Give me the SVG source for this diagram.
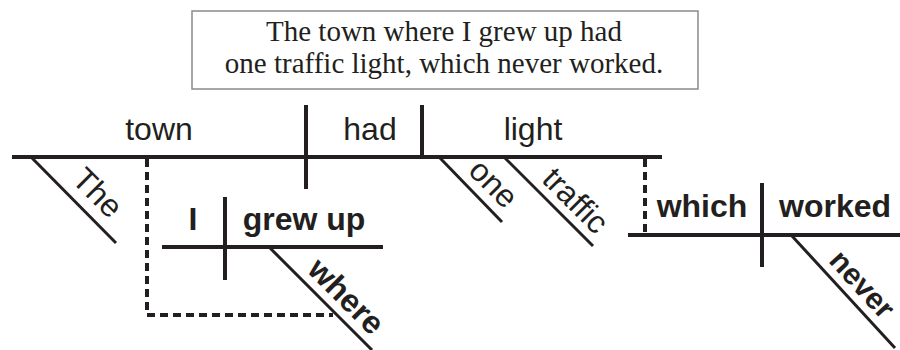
<svg xmlns="http://www.w3.org/2000/svg" width="900" height="350" viewBox="0 0 900 350">
<style>
.ln{stroke:#231f20;stroke-width:4;fill:none;stroke-linecap:butt}
.sl{stroke:#231f20;stroke-width:3;fill:none}
.ds{stroke:#231f20;stroke-width:4;fill:none;stroke-dasharray:8 5}
.r{font-family:"Liberation Sans",Arial,sans-serif;font-size:32px;fill:#231f20}
.b{font-family:"Liberation Sans",Arial,sans-serif;font-size:32px;font-weight:bold;fill:#231f20}
.s{font-family:"Liberation Serif","Times New Roman",serif;font-size:29px;fill:#231f20}
</style>
<rect width="900" height="350" fill="#fff"/>
<g id="sentence">
<rect x="192" y="11" width="506" height="78" fill="#fff" stroke="#8a8a8a" stroke-width="1.5"/>
<text class="s" x="444" y="41" text-anchor="middle">The town where I grew up had</text>
<text class="s" x="444" y="73" text-anchor="middle">one traffic light, which never worked.</text>
</g>
<g id="connectors">
<line class="ln" x1="12" y1="157" x2="662" y2="157"/>
<line class="ln" x1="306" y1="105" x2="306" y2="189"/>
<line class="ln" x1="422" y1="105" x2="422" y2="157"/>
<line class="sl" x1="32" y1="158" x2="116" y2="243"/>
<line class="sl" x1="440" y1="158" x2="502" y2="222"/>
<line class="sl" x1="505" y1="158" x2="593" y2="246"/>
<path class="ds" d="M147 159 V315 H333"/>
<line class="ln" x1="162" y1="247" x2="383" y2="247"/>
<line class="ln" x1="225" y1="197" x2="225" y2="280"/>
<line class="sl" x1="270" y1="248" x2="372" y2="350"/>
<line class="ds" x1="645" y1="159" x2="645" y2="233"/>
<line class="ln" x1="628" y1="235" x2="900" y2="235"/>
<line class="ln" x1="762" y1="183" x2="762" y2="267"/>
<line class="sl" x1="792" y1="236" x2="895" y2="348"/>
</g>
<g id="subject"><text class="r" x="159" y="140" text-anchor="middle">town</text></g>
<g id="verb"><text class="r" x="370" y="140" text-anchor="middle">had</text></g>
<g id="object"><text class="r" x="533" y="140" text-anchor="middle">light</text></g>
<g id="mod-the"><text class="r" transform="translate(32,158) rotate(45)" x="71" y="-11" text-anchor="middle">The</text></g>
<g id="mod-one"><text class="r" transform="translate(440,158) rotate(45)" x="56" y="-9" text-anchor="middle">one</text></g>
<g id="mod-traffic"><text class="r" transform="translate(505,158) rotate(45)" x="80" y="-9" text-anchor="middle">traffic</text></g>
<g id="clause1-subject"><text class="b" x="193" y="230" text-anchor="middle">I</text></g>
<g id="clause1-verb"><text class="b" x="304" y="230" text-anchor="middle">grew up</text></g>
<g id="mod-where"><text class="b" transform="translate(270,248) rotate(45)" x="88" y="-9" text-anchor="middle">where</text></g>
<g id="clause2-subject"><text class="b" x="702" y="217" text-anchor="middle">which</text></g>
<g id="clause2-verb"><text class="b" x="835" y="217" text-anchor="middle">worked</text></g>
<g id="mod-never"><text class="b" transform="translate(792,236) rotate(47.5)" x="43" y="-9" style="font-size:30px">never</text></g>
</svg>
